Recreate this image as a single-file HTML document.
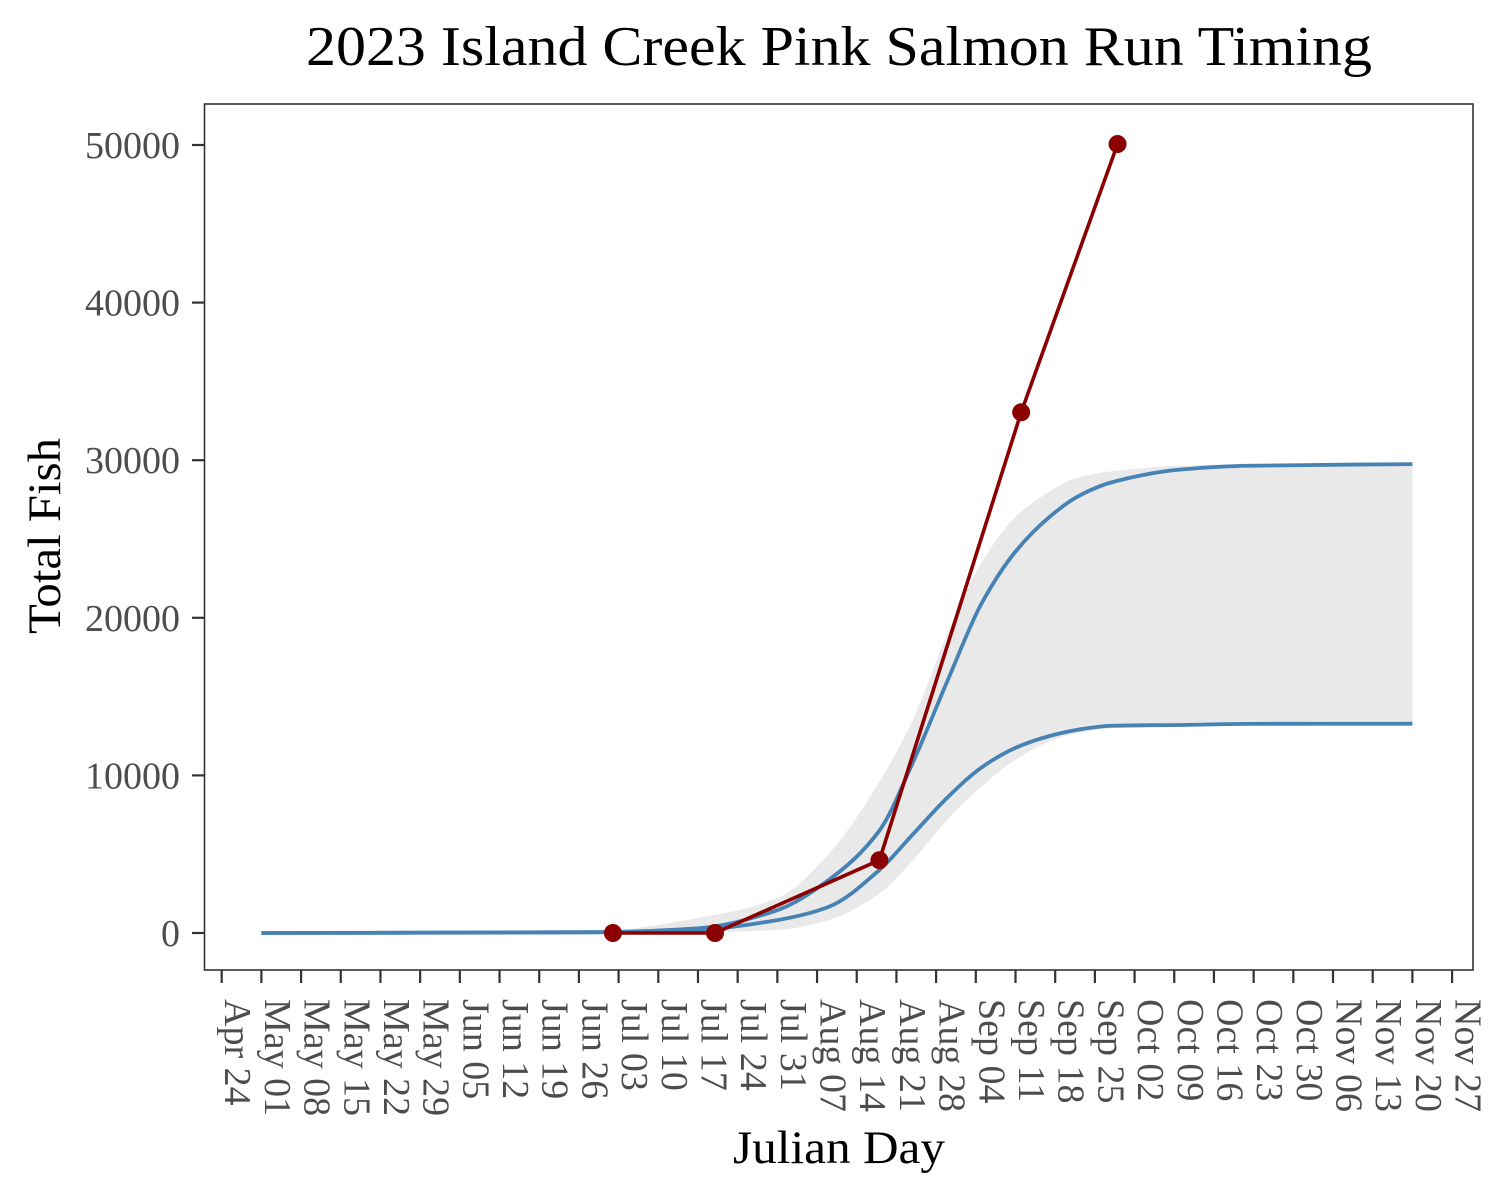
<!DOCTYPE html>
<html><head><meta charset="utf-8"><title>2023 Island Creek Pink Salmon Run Timing</title>
<style>html,body{margin:0;padding:0;background:#fff}svg{display:block}text{font-family:"Liberation Serif",serif}</style>
</head><body>
<svg id="chart" width="1500" height="1200" viewBox="0 0 1500 1200">
<rect width="1500" height="1200" fill="#fff"/>
<text x="839" y="65" font-size="56" text-anchor="middle" fill="#000" textLength="1066" lengthAdjust="spacingAndGlyphs">2023 Island Creek Pink Salmon Run Timing</text>
<g id="plot"></g>
<rect x="204.5" y="104" width="1268.5" height="866" fill="none" stroke="#333" stroke-width="1.6"/>
<g id="yaxis"></g>
<g id="xaxis"></g>
<text x="0" y="0" transform="translate(60,536) rotate(-90)" font-size="47" text-anchor="middle" fill="#000" textLength="196" lengthAdjust="spacingAndGlyphs">Total Fish</text>
<text x="839" y="1163" font-size="47" text-anchor="middle" fill="#000" textLength="212" lengthAdjust="spacingAndGlyphs">Julian Day</text>
</svg>
<script>
// ---- data ----
const curveDays   = [121, 181, 198, 212, 221, 230, 236, 242, 248, 254, 260, 265, 271, 283, 295, 324];
const upperFit    = [0, 60, 300, 1450, 3350, 6500, 10900, 16000, 20900, 24200, 26400, 27700, 28600, 29400, 29650, 29750];
const lowerFit    = [0, 40, 200, 820, 1650, 4000, 6300, 8600, 10500, 11750, 12500, 12900, 13150, 13200, 13270, 13280];
const bandHigh    = [0, 150, 950, 2200, 5000, 9600, 13600, 19000, 23500, 26400, 28000, 28900, 29300, 29650, 29750, 29800];
const bandLow     = [0, 0, 50, 190, 820, 2500, 4650, 7200, 9300, 11000, 12150, 12700, 13000, 13150, 13200, 13230];
const obsDays     = [183, 201, 230, 255, 272];
const obsTotals   = [0, 0, 4620, 33040, 50060];
const yTicks      = [0, 10000, 20000, 30000, 40000, 50000];
const xTickLabels = ["Apr 24","May 01","May 08","May 15","May 22","May 29","Jun 05","Jun 12","Jun 19","Jun 26","Jul 03","Jul 10","Jul 17","Jul 24","Jul 31","Aug 07","Aug 14","Aug 21","Aug 28","Sep 04","Sep 11","Sep 18","Sep 25","Oct 02","Oct 09","Oct 16","Oct 23","Oct 30","Nov 06","Nov 13","Nov 20","Nov 27"];
const firstTickDay = 114;

// ---- scales ----
const NS = "http://www.w3.org/2000/svg";
function xScale(d){ return 221.7 + (d - 114) * (39.69/7); }
function yScale(v){ return 933 - v * (788/50000); }

function mk(tag, attrs, parent){
  const e = document.createElementNS(NS, tag);
  for (const k in attrs) e.setAttribute(k, attrs[k]);
  parent.appendChild(e);
  return e;
}
function monoPath(xs, ys, move){
  const n = xs.length, m = [], dx = [], s = [];
  for (let i=0;i<n-1;i++){ dx[i]=xs[i+1]-xs[i]; s[i]=(ys[i+1]-ys[i])/dx[i]; }
  m[0]=s[0]; m[n-1]=s[n-2];
  for (let i=1;i<n-1;i++){
    if (s[i-1]*s[i]<=0) m[i]=0;
    else { const w1=2*dx[i]+dx[i-1], w2=dx[i]+2*dx[i-1]; m[i]=(w1+w2)/(w1/s[i-1]+w2/s[i]); }
  }
  let p = (move?"M":"L")+xs[0].toFixed(2)+","+ys[0].toFixed(2);
  for (let i=0;i<n-1;i++){
    const h=dx[i]/3;
    p += "C"+(xs[i]+h).toFixed(2)+","+(ys[i]+m[i]*h).toFixed(2)+" "+(xs[i+1]-h).toFixed(2)+","+(ys[i+1]-m[i+1]*h).toFixed(2)+" "+xs[i+1].toFixed(2)+","+ys[i+1].toFixed(2);
  }
  return p;
}

const plot = document.getElementById("plot");
const cx = curveDays.map(xScale);

const hiY = bandHigh.map(yScale), loY = bandLow.map(yScale);
const ribbonD = monoPath(cx, hiY, true) + monoPath(cx.slice().reverse(), loY.slice().reverse(), false) + "Z";
const ribbon = mk("path", {d: ribbonD, fill: "#e9e9e9", stroke: "none"}, plot);



const up = mk("path", {d: monoPath(cx, upperFit.map(yScale), true), fill: "none", stroke: "#4682b4", "stroke-width": 3.8}, plot);


const lo = mk("path", {d: monoPath(cx, lowerFit.map(yScale), true), fill: "none", stroke: "#4682b4", "stroke-width": 3.8}, plot);



const obsPts = obsDays.map((d,i)=>xScale(d).toFixed(2)+","+yScale(obsTotals[i]).toFixed(2)).join(" ");
const obsLine = mk("polyline", {points: obsPts, fill: "none", stroke: "#8b0000", "stroke-width": 3.6}, plot);


obsDays.forEach((d,i)=>{
  const c = mk("circle", {cx: xScale(d), cy: yScale(obsTotals[i]), r: 9, fill: "#8b0000"}, plot);
  
  
});

const yg = document.getElementById("yaxis");
yTicks.forEach(v=>{
  const y = yScale(v);
  const t = mk("line", {x1: 192, x2: 204.5, y1: y, y2: y, stroke: "#333", "stroke-width": 2.2}, yg);
  
  
  const l = mk("text", {x: 180, y: y + 13, "font-size": 38, "text-anchor": "end", fill: "#4d4d4d"}, yg);
  l.textContent = String(v);
  
  
});

const xg = document.getElementById("xaxis");
xTickLabels.forEach((lab,i)=>{
  const x = xScale(firstTickDay + i*7);
  const t = mk("line", {x1: x, x2: x, y1: 970, y2: 983, stroke: "#333", "stroke-width": 2.2}, xg);
  
  
  const l = mk("text", {x: 0, y: 0, transform: "translate("+(x+3.5).toFixed(2)+",999) rotate(90)", "font-size": 38, "text-anchor": "start", fill: "#4d4d4d"}, xg);
  l.textContent = lab;
  
  
});
</script>
</body></html>
